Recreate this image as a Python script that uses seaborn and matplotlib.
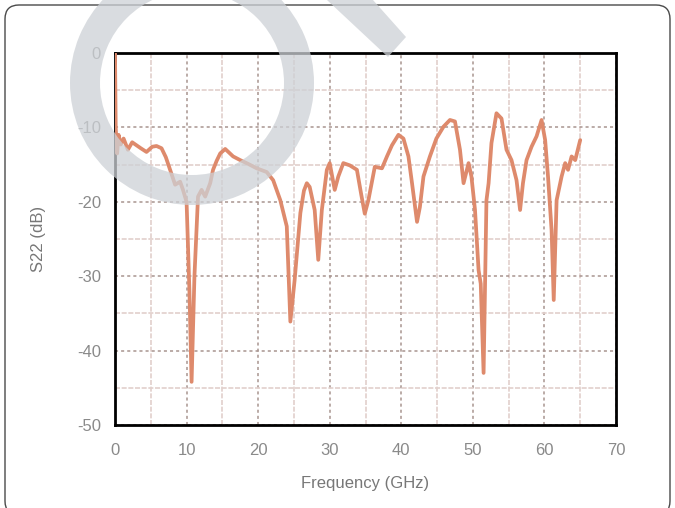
import numpy as np
import pandas as pd
import matplotlib
matplotlib.use("Agg")
import matplotlib.pyplot as plt
import matplotlib.patches as mpatches
from matplotlib.transforms import IdentityTransform
from matplotlib.ticker import MultipleLocator
import seaborn as sns

# S22 trace
freq = [0.0, 0.1, 0.3, 0.5, 0.8, 1.2, 1.8, 2.4, 3.0, 3.6, 4.4, 5.2, 5.8, 6.5, 7.1, 7.7, 8.4, 9.1, 9.5, 10.0,
        10.4, 10.7, 11.1, 11.6, 12.1, 12.6, 13.3, 13.7, 14.2, 14.7, 15.4, 16.5, 17.5, 18.6, 19.8, 21.2, 22.1, 23.1,
        24.0, 24.5, 25.1, 25.9, 26.4, 26.8, 27.2, 27.9, 28.4, 28.9, 29.6, 30.0, 30.7, 31.2, 31.9, 32.8, 33.8, 34.4,
        34.9, 35.4, 36.3, 37.3, 38.0, 38.7, 39.6, 40.3, 41.0, 41.5, 42.2, 42.6, 43.1, 44.0, 44.9, 45.9, 46.8, 47.5,
        48.2, 48.7, 49.4, 49.8, 50.3, 50.8, 51.1, 51.5, 51.9, 52.2, 52.6, 53.3, 54.0, 54.7, 55.4, 56.1, 56.6, 57.0,
        57.5, 58.2, 58.9, 59.6, 60.1, 60.5, 61.0, 61.3, 61.7, 62.4, 62.9, 63.3, 63.8, 64.3, 65.0]
s22 = [0.0, -10.0, -13.5, -11.0, -12.3, -11.5, -13.0, -12.0, -12.4, -12.8, -13.3, -12.6, -12.5, -12.8, -14.0,
       -15.7, -17.7, -17.3, -18.4, -20.0, -32.0, -44.2, -30.0, -19.3, -18.4, -19.3, -17.5, -15.7, -14.5, -13.5,
       -12.9, -13.9, -14.4, -14.9, -15.5, -16.0, -17.1, -19.8, -23.3, -36.1, -30.5, -21.5, -18.5, -17.5, -18.0,
       -21.1, -27.8, -21.1, -15.7, -14.8, -18.4, -16.6, -14.8, -15.1, -15.7, -19.0, -21.6, -19.8, -15.3, -15.5,
       -13.9, -12.4, -11.0, -11.5, -13.9, -17.5, -22.7, -20.7, -16.6, -13.9, -11.5, -9.9, -9.0, -9.2, -13.0,
       -17.5, -14.8, -16.6, -21.1, -29.2, -31.0, -43.0, -19.8, -17.5, -12.1, -8.1, -8.8, -13.0, -14.4, -17.1,
       -21.1, -17.5, -14.4, -12.6, -11.2, -9.0, -11.7, -16.6, -23.8, -33.2, -19.8, -16.6, -14.8, -15.7, -13.9,
       -14.4, -11.7]
x_ticks = [0, 10, 20, 30, 40, 50, 60, 70]
y_ticks = [0, -10, -20, -30, -40, -50]

df = pd.DataFrame({"Frequency": freq, "S22": s22})

sns.set_style("white")
plt.rcParams['font.family'] = ['Liberation Sans', 'DejaVu Sans']
plt.rcParams['axes.unicode_minus'] = False

W, H = 675, 508
fig = plt.figure(figsize=(W / 100, H / 100), dpi=100)
ax = fig.add_axes([115 / W, 1 - 425 / H, 501 / W, 372 / H])

sns.lineplot(data=df, x="Frequency", y="S22", sort=False, estimator=None,
             color="#DE8A6C", linewidth=2.7, ax=ax, zorder=3)

ax.set_xlim(0, 70)
ax.set_ylim(-50, 0)
ax.set_xticks(x_ticks)
ax.set_yticks(y_ticks)
ax.xaxis.set_minor_locator(MultipleLocator(5))
ax.yaxis.set_minor_locator(MultipleLocator(5))
ax.grid(which="major", color="#A8948F", linestyle=(0, (2, 2)), linewidth=1.1)
ax.grid(which="minor", color="#E2D0CC", linestyle=(0, (3, 1)), linewidth=1.2)
ax.set_axisbelow(True)
ax.tick_params(which="both", length=0, labelsize=12, labelcolor="#8a8a8a")
ax.tick_params(axis="x", pad=13)
ax.tick_params(axis="y", pad=10)
for s in ax.spines.values():
    s.set_visible(True)
    s.set_color("black")
    s.set_linewidth(2)

ax.set_xlabel("Frequency (GHz)", fontsize=12, color="#777777", labelpad=13)
ax.set_ylabel("S22 (dB)", fontsize=12, color="#777777", labelpad=22)

# rounded frame round the figure
frame = mpatches.FancyBboxPatch((5, H - 515), 665, 510, boxstyle="round,pad=0,rounding_size=14",
                                transform=IdentityTransform(), fill=False, ec="#4a4a4a", lw=1)
fig.add_artist(frame)

# grey watermark over the chart
ring = mpatches.Wedge((192, H - 83), 122, 0, 360, width=30, transform=IdentityTransform(),
                      color="#CDD1D6", alpha=0.75, lw=0, zorder=10)
fig.add_artist(ring)
tail_px = [(327, 0), (373, 0), (406, 37), (388, 57)]
tail = mpatches.Polygon([(x, H - y) for x, y in tail_px], closed=True, transform=IdentityTransform(),
                        color="#CDD1D6", alpha=0.75, lw=0, zorder=10)
fig.add_artist(tail)

fig.savefig("out.png", dpi=100)
